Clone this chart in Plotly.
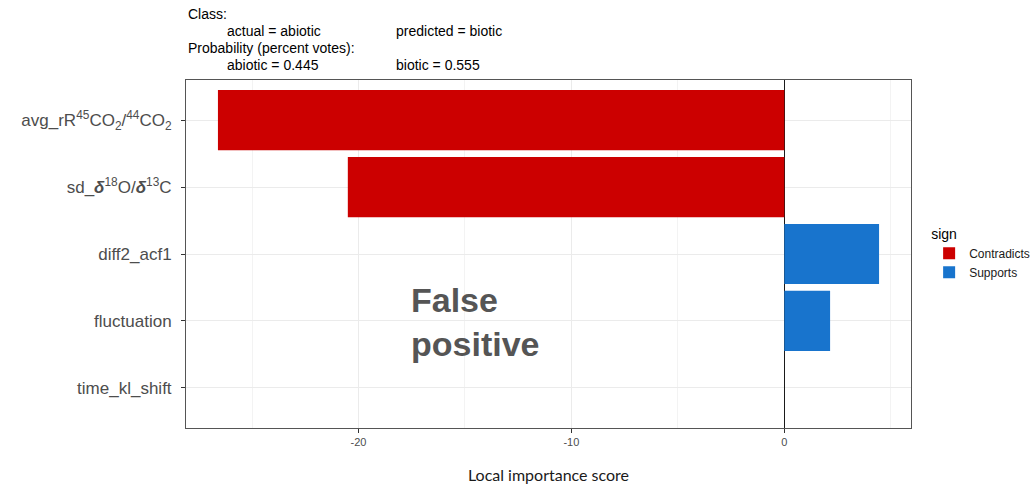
import plotly.graph_objects as go

features = [
    "avg_rR<sup>45</sup>CO<sub>2</sub>/<sup>44</sup>CO<sub>2</sub>",
    "sd_<b><i>δ</i></b><sup>18</sup>O/<b><i>δ</i></b><sup>13</sup>C",
    "diff2_acf1",
    "fluctuation",
    "time_kl_shift",
]
contradicts_features = [features[0], features[1]]
contradicts_values = [-26.6, -20.5]
supports_features = [features[2], features[3], features[4]]
supports_values = [4.45, 2.15, 0.0]

x_ticks = [-20, -10, 0]

RED = "#CC0000"
BLUE = "#1874CD"

fig = go.Figure()
fig.add_trace(go.Bar(
    y=contradicts_features, x=contradicts_values, orientation="h",
    name="Contradicts", marker=dict(color=RED, line=dict(width=0)),
    width=0.9,
))
fig.add_trace(go.Bar(
    y=supports_features, x=supports_values, orientation="h",
    name="Supports", marker=dict(color=BLUE, line=dict(width=0)),
    width=0.9,
))

fig.update_layout(
    width=1033, height=487,
    margin=dict(l=186, r=122, t=80, b=59, autoexpand=False),
    paper_bgcolor="white", plot_bgcolor="white",
    barmode="overlay",
    font=dict(family="Liberation Sans, Arial, sans-serif", color="#4d4d4d"),
    legend=dict(
        title=dict(text="sign", font=dict(size=14, color="#000")),
        font=dict(size=12, color="#1a1a1a"),
        x=1.025, xanchor="left", y=0.50, yanchor="middle",
        bgcolor="rgba(0,0,0,0)",
    ),
    xaxis=dict(
        range=[-28.1, 5.95], tickvals=x_ticks, ticktext=[str(v) for v in x_ticks],
        showgrid=True, gridcolor="#ebebeb", gridwidth=1,
        minor=dict(dtick=5, tick0=0, showgrid=True, gridcolor="#f3f3f3", gridwidth=1),
        zeroline=True, zerolinecolor="#1a1a1a", zerolinewidth=1.2,
        showline=True, linecolor="#555", linewidth=1, mirror=True,
        ticks="outside", ticklen=4, tickcolor="#333",
        tickfont=dict(size=11, color="#4d4d4d"),
        title=dict(text="Local importance score", font=dict(family="Lato, sans-serif", size=16, color="#1a1a1a"), standoff=22),
    ),
    yaxis=dict(
        categoryorder="array", categoryarray=features, range=[4.6, -0.6],
        showgrid=True, gridcolor="#ebebeb", gridwidth=1,
        showline=True, linecolor="#555", linewidth=1, mirror=True,
        ticks="outside", ticklen=4, tickcolor="#333",
        tickfont=dict(size=17, color="#4d4d4d"),
        ticklabelstandoff=6,
    ),
)

# Header text
hdr = dict(xref="paper", yref="paper", showarrow=False, xanchor="left", yanchor="middle",
           font=dict(size=14, color="#000", family="Liberation Sans, Arial, sans-serif"))
px = lambda x: (x - 186) / (911 - 186)
py = lambda y: (428 - y) / (428 - 80)
fig.add_annotation(text="Class:", x=px(186), y=py(14), **hdr)
fig.add_annotation(text="actual = abiotic", x=px(225), y=py(31), **hdr)
fig.add_annotation(text="predicted = biotic", x=px(394), y=py(31), **hdr)
fig.add_annotation(text="Probability (percent votes):", x=px(186), y=py(48), **hdr)
fig.add_annotation(text="abiotic = 0.445", x=px(225), y=py(65), **hdr)
fig.add_annotation(text="biotic = 0.555", x=px(394), y=py(65), **hdr)

fig.add_annotation(text="False<br>positive", xref="x", yref="paper", x=-17.65, y=py(322),
                   xanchor="left", yanchor="middle", showarrow=False, align="left",
                   font=dict(size=34, color="#555555", family="Liberation Sans, Arial, sans-serif", weight="bold"))

fig.write_html("out.html")
